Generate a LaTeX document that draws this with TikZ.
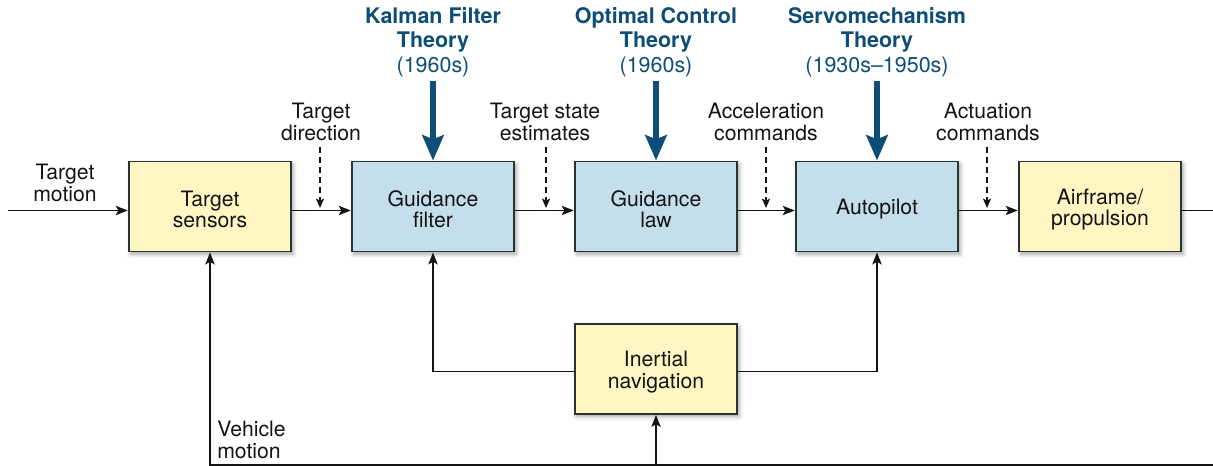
\documentclass[tikz,border=0pt]{standalone}
\usepackage{fontspec}
\setmainfont{TeX Gyre Heros}
\usetikzlibrary{arrows.meta,shadows.blur}
\definecolor{yel}{RGB}{255,246,196}
\definecolor{blu}{RGB}{196,222,236}
\definecolor{edgec}{RGB}{38,52,52}
\definecolor{navy}{RGB}{14,78,118}
\definecolor{ink}{RGB}{20,20,20}
\newcommand\txtfont{\fontsize{15.9}{16.1}\selectfont}
\newcommand\thfont{\fontsize{16.1}{18.4}\selectfont}
\newcommand\tp{\rule{0pt}{16pt}}
\begin{document}
\begin{tikzpicture}[x=0.75pt,y=-0.75pt,
  box/.style={draw=edgec,line width=1.4pt,minimum width=122pt,minimum height=67.5pt,
    inner sep=0pt,align=center,font=\txtfont,text=ink,
    blur shadow={shadow xshift=1.5pt,shadow yshift=-2pt,shadow blur radius=3pt,shadow opacity=35}},
  ybox/.style={box,fill=yel},
  bbox/.style={box,fill=blu},
  lbl/.style={align=center,font=\txtfont,text=ink,inner sep=0pt},
  theory/.style={align=center,font=\thfont,text=navy,inner sep=0pt},
  arr/.style={draw=ink,line width=1.1pt,-{Stealth[length=9pt,width=7pt,inset=2pt]}},
  plain/.style={draw=ink,line width=1.1pt},
  darr/.style={draw=ink,line width=1.1pt,dash pattern=on 4.5pt off 3pt,-{Stealth[length=7pt,width=6pt,inset=1.5pt]}},
  tharr/.style={draw=navy,line width=5pt,-{Stealth[length=19pt,width=16pt,inset=3pt]}}
]
\useasboundingbox (0,0) rectangle (1213,466);

% boxes
\node[ybox] (ts) at (210,206.5) {\tp Target\\sensors};
\node[bbox] (gf) at (433,206.5) {\tp Guidance\\filter};
\node[bbox] (gl) at (656,206.5) {\tp Guidance\\law};
\node[bbox] (ap) at (877,206.5) {\tp Autopilot};
\node[ybox] (af) at (1100,206.5) {\tp Airframe/\\propulsion};
\node[ybox] (in) at (656,369) {\tp Inertial\\navigation};

% theory labels
\node[theory] (kal) at (433,42) {\textbf{Kalman Filter}\\\textbf{Theory}\\(1960s)};
\node[theory] (opt) at (656,42) {\textbf{Optimal Control}\\\textbf{Theory}\\(1960s)};
\node[theory] (servo) at (877,42) {\textbf{Servomechanism}\\\textbf{Theory}\\(1930s–1950s)};

\draw[tharr] ([yshift=-3pt]kal.south) -- (gf.north);
\draw[tharr] ([yshift=-3pt]opt.south) -- (gl.north);
\draw[tharr] ([yshift=-3pt]servo.south) -- (ap.north);

% signal labels
\node[lbl] (tm) at (65,183) {Target\\motion};
\node[lbl] (td) at (321,122) {Target\\direction};
\node[lbl] (tse) at (545,122) {Target state\\estimates};
\node[lbl] (acc) at (766,122) {Acceleration\\commands};
\node[lbl] (act) at (988,122) {Actuation\\commands};
\node[lbl,align=left,anchor=west] (vm) at (217,440) {Vehicle\\motion};

% coordinates
\coordinate (inl) at (8,210.5);
\coordinate (outr) at (1213,210.5);
\coordinate (botr) at (1213,465);
\coordinate (d1) at (320,208);
\coordinate (d2) at (546,208);
\coordinate (d3) at (766,208);
\coordinate (d4) at (987,208);

% main chain
\draw[arr] (inl) -- ([yshift=-3pt]ts.west);
\draw[arr] ([yshift=-3pt]ts.east) -- ([yshift=-3pt]gf.west);
\draw[arr] ([yshift=-3pt]gf.east) -- ([yshift=-3pt]gl.west);
\draw[arr] ([yshift=-3pt]gl.east) -- ([yshift=-3pt]ap.west);
\draw[arr] ([yshift=-3pt]ap.east) -- ([yshift=-3pt]af.west);
\draw[plain] ([yshift=-3pt]af.east) -- (outr);

% dashed
\draw[darr] (d1 |- 0,147) -- (d1);
\draw[darr] (d2 |- 0,147) -- (d2);
\draw[darr] (d3 |- 0,147) -- (d3);
\draw[darr] (d4 |- 0,147) -- (d4);

% feedback
\draw[arr] ([yshift=-2pt]in.west) -| (gf.south);
\draw[arr] ([yshift=-2pt]in.east) -| (ap.south);
\draw[arr] (botr) -| (ts.south);
\draw[arr] (in.south |- botr) -- (in.south);
\end{tikzpicture}
\end{document}
